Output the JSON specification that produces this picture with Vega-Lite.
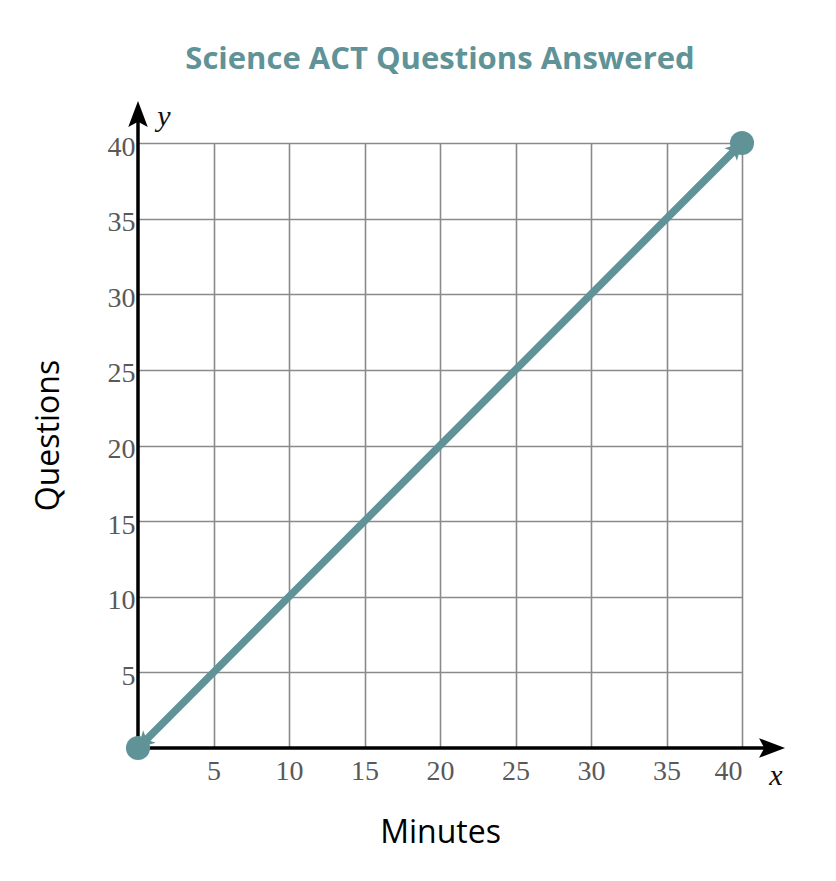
{
  "$schema": "https://vega.github.io/schema/vega-lite/v6.json",
  "width": 604,
  "height": 605,
  "autosize": {"type": "none"},
  "padding": {"left": 138, "top": 143, "right": 94, "bottom": 133},
  "background": "white",
  "config": {"view": {"stroke": null}},
  "title": {
    "text": "Science ACT Questions Answered",
    "font": "Open Sans",
    "fontSize": 31,
    "fontWeight": "bold",
    "color": "#5f9398",
    "anchor": "middle",
    "baseline": "alphabetic",
    "offset": 1
  },
  "datasets": {
    "line": [
      {"minutes": 0, "questions": 0},
      {"minutes": 40, "questions": 40}
    ],
    "axes": [
      {"axis": "x", "minutes": 0, "questions": 0, "minutes_end": 42.3, "questions_end": 0},
      {"axis": "y", "minutes": 0, "questions": 0, "minutes_end": 0, "questions_end": 42.3}
    ],
    "arrows": [
      {"axis": "x", "minutes": 42.85, "questions": 0},
      {"axis": "y", "minutes": 0, "questions": 42.78}
    ],
    "ends": [
      {"end": "start", "minutes": 0, "questions": 0},
      {"end": "end", "minutes": 40, "questions": 40}
    ],
    "varlabels": [
      {"label": "y", "minutes": 1.72, "questions": 41.7},
      {"label": "x", "minutes": 42.25, "questions": -1.85}
    ]
  },
  "encoding": {
    "x": {
      "field": "minutes",
      "type": "quantitative",
      "scale": {"domain": [0, 40], "nice": false, "zero": false},
      "axis": {
        "title": "Minutes",
        "values": [5, 10, 15, 20, 25, 30, 35, 40],
        "grid": true,
        "gridColor": "#8a8a8a",
        "gridWidth": 1.6,
        "domain": false,
        "ticks": false,
        "labelFont": "Liberation Serif",
        "labelFontSize": 28,
        "labelColor": "#595959",
        "labelPadding": 9,
        "titleFont": "Open Sans",
        "titleFontSize": 32,
        "titleFontWeight": "normal",
        "titleColor": "#000000",
        "titlePadding": 32
      }
    },
    "y": {
      "field": "questions",
      "type": "quantitative",
      "scale": {"domain": [0, 40], "nice": false, "zero": false},
      "axis": {
        "title": "Questions",
        "values": [5, 10, 15, 20, 25, 30, 35, 40],
        "grid": true,
        "gridColor": "#8a8a8a",
        "gridWidth": 1.6,
        "domain": false,
        "ticks": false,
        "labelFont": "Liberation Serif",
        "labelFontSize": 28,
        "labelColor": "#595959",
        "labelPadding": 3,
        "labelBaseline": "middle",
        "labelOffset": 4,
        "titleFont": "Open Sans",
        "titleFontSize": 32,
        "titleFontWeight": "normal",
        "titleColor": "#000000",
        "titlePadding": 42,
        "titleY": 292
      }
    }
  },
  "layer": [
    {
      "data": {"name": "axes"},
      "mark": {"type": "rule", "color": "#000000", "strokeWidth": 3.5},
      "encoding": {
        "x2": {"field": "minutes_end"},
        "y2": {"field": "questions_end"}
      }
    },
    {
      "data": {"name": "arrows"},
      "transform": [{"filter": "datum.axis === 'x'"}],
      "mark": {
        "type": "point",
        "shape": "M0,0 L-2,-0.75 L-1.6,0 L-2,0.75 Z",
        "filled": true,
        "color": "#000000",
        "opacity": 1,
        "size": 676
      }
    },
    {
      "data": {"name": "arrows"},
      "transform": [{"filter": "datum.axis === 'y'"}],
      "mark": {
        "type": "point",
        "shape": "M0,0 L-0.75,2 L0,1.6 L0.75,2 Z",
        "filled": true,
        "color": "#000000",
        "opacity": 1,
        "size": 676
      }
    },
    {
      "data": {"name": "line"},
      "mark": {"type": "line", "color": "#5f9398", "strokeWidth": 7.5}
    },
    {
      "data": {"name": "ends"},
      "transform": [{"filter": "datum.end === 'end'"}],
      "mark": {
        "type": "point",
        "shape": "M0,0 L-2,-1.1 L-1.5,0 L-2,1.1 Z",
        "filled": true,
        "color": "#5f9398",
        "opacity": 1,
        "size": 260,
        "angle": 315
      }
    },
    {
      "data": {"name": "ends"},
      "transform": [{"filter": "datum.end === 'start'"}],
      "mark": {
        "type": "point",
        "shape": "M0,0 L-2,-1.1 L-1.5,0 L-2,1.1 Z",
        "filled": true,
        "color": "#5f9398",
        "opacity": 1,
        "size": 260,
        "angle": 135
      }
    },
    {
      "data": {"name": "ends"},
      "mark": {
        "type": "point",
        "shape": "circle",
        "filled": true,
        "color": "#5f9398",
        "opacity": 1,
        "size": 580
      }
    },
    {
      "data": {"name": "varlabels"},
      "mark": {
        "type": "text",
        "font": "Liberation Serif",
        "fontStyle": "italic",
        "fontSize": 30,
        "color": "#111111",
        "align": "center",
        "baseline": "middle"
      },
      "encoding": {"text": {"field": "label"}}
    }
  ]
}
